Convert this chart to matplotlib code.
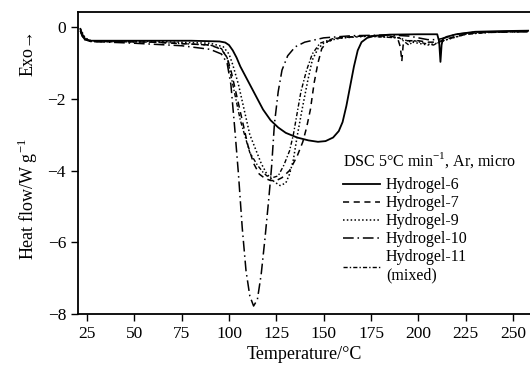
import matplotlib.pyplot as plt
import numpy as np

plt.rcParams["font.family"] = ["Liberation Serif", "DejaVu Serif"]
plt.rcParams["mathtext.fontset"] = "custom"
plt.rcParams["mathtext.rm"] = "Liberation Serif"

# Hydrogel-6 (solid)
t6 = [21.5, 22.5, 24, 27, 40, 60, 80, 95, 98, 100, 102, 104, 106, 109, 112, 115, 118, 122, 126,
      130, 136, 142, 147, 151, 155, 158, 160, 162, 164, 166, 168, 170, 173, 177, 185, 200, 210,
      211, 211.7, 212.3, 213, 215, 220, 230, 245, 258]
v6 = [-0.05, -0.2, -0.33, -0.38, -0.38, -0.38, -0.38, -0.4, -0.43, -0.5, -0.65, -0.85, -1.1, -1.4,
      -1.7, -2.0, -2.3, -2.6, -2.8, -2.95, -3.08, -3.16, -3.2, -3.18, -3.08, -2.9, -2.65, -2.2,
      -1.65, -1.1, -0.65, -0.42, -0.3, -0.24, -0.21, -0.2, -0.2, -0.4, -0.97, -0.5, -0.32, -0.27,
      -0.2, -0.13, -0.11, -0.1]

# Hydrogel-7 (dashed)
t7 = [21.5, 22.5, 24, 27, 60, 90, 96, 99, 101, 104, 107, 110, 113, 116, 119, 122, 125, 128, 132,
      136, 139, 141, 143, 145, 147, 149, 152, 158, 170, 185, 189, 190.5, 191.3, 192, 194, 200, 205,
      210, 214, 220, 230, 258]
v7 = [-0.1, -0.25, -0.35, -0.4, -0.42, -0.5, -0.62, -0.85, -1.2, -1.9, -2.6, -3.3, -3.8, -4.1,
      -4.22, -4.28, -4.28, -4.2, -4.0, -3.6, -3.2, -2.8, -2.3, -1.55, -1.0, -0.6, -0.4, -0.3,
      -0.25, -0.25, -0.3, -0.55, -0.95, -0.5, -0.38, -0.38, -0.42, -0.42, -0.35, -0.25, -0.16,
      -0.12]

# Hydrogel-9 (dotted)
t9 = [21.5, 22.5, 24, 27, 60, 90, 97, 100, 102, 105, 108, 111, 114, 117, 120, 124, 127, 130, 132,
      134, 136, 138.6, 141.7, 144, 147, 150, 155, 160, 175, 190, 195, 200, 205, 210, 215, 225, 235,
      258]
v9 = [-0.05, -0.15, -0.3, -0.38, -0.4, -0.45, -0.55, -0.75, -1.05, -1.6, -2.3, -3.0, -3.4, -3.8,
      -4.1, -4.32, -4.42, -4.35, -4.1, -3.7, -3.05, -2.3, -1.47, -0.92, -0.6, -0.45, -0.35, -0.3,
      -0.25, -0.3, -0.4, -0.45, -0.5, -0.45, -0.35, -0.2, -0.14, -0.12]

# Hydrogel-10 (long dash-dot)
t10 = [21.5, 22.5, 24, 27, 50, 75, 90, 96, 99, 101, 103, 105, 107, 109, 111, 113, 115, 117, 119,
       121, 122.5, 124, 126, 128, 131, 135, 140, 150, 165, 185, 195, 200, 205, 210, 214, 220, 230,
       258]
v10 = [-0.1, -0.25, -0.36, -0.4, -0.45, -0.52, -0.62, -0.75, -1.0, -1.6, -2.8, -4.1, -5.6, -6.8,
       -7.5, -7.78, -7.6, -6.9, -5.9, -4.8, -3.9, -2.7, -1.8, -1.2, -0.8, -0.55, -0.42, -0.3,
       -0.24, -0.22, -0.25, -0.3, -0.35, -0.35, -0.3, -0.2, -0.14, -0.13]

# Hydrogel-11 (mixed)
t11 = [21.5, 22.5, 24, 27, 60, 90, 96, 99, 102, 106, 111, 115, 118, 120, 123, 126, 129, 132, 134,
       136, 138, 141, 144, 148, 155, 170, 190, 195, 198, 203, 208, 212, 218, 225, 240, 258]
v11 = [-0.1, -0.25, -0.35, -0.4, -0.42, -0.5, -0.6, -0.85, -1.6, -2.6, -3.5, -3.85, -4.05, -4.15,
       -4.2, -4.15, -3.85, -3.45, -3.0, -2.4, -1.8, -1.2, -0.75, -0.45, -0.32, -0.25, -0.3, -0.5,
       -0.38, -0.45, -0.5, -0.4, -0.3, -0.2, -0.14, -0.12]

labels = ["Hydrogel-6", "Hydrogel-7", "Hydrogel-9", "Hydrogel-10", "Hydrogel-11\n(mixed)"]
series = [(t6, v6), (t7, v7), (t9, v9), (t10, v10), (t11, v11)]
dashes = [None, (4, 3), (1, 1.5), (7, 2.5, 1, 2.5), (3, 1.5, 1, 1.5)]
widths = [1.3, 1.1, 1.1, 1.1, 1.0]

fig = plt.figure(figsize=(5.3, 3.65), dpi=100)
ax = fig.add_axes([0.147, 0.140, 0.853, 0.827])

for (t, v), lab, d, w in zip(series, labels, dashes, widths):
    line, = ax.plot(t, v, color="black", lw=w, label=lab)
    if d is not None:
        line.set_dashes(d)

ax.set_xlim(20.2, 259)
ax.set_ylim(-8, 0.42)
ax.set_xticks([25, 50, 75, 100, 125, 150, 175, 200, 225, 250])
ax.set_yticks([0, -2, -4, -6, -8])
ax.tick_params(direction="out", length=5, width=1, labelsize=12.5)
ax.spines["right"].set_visible(False)
for s in ["left", "bottom", "top"]:
    ax.spines[s].set_linewidth(1.3)

ax.set_xlabel("Temperature/°C", fontsize=13, labelpad=3)
fig.text(0.053, 0.455, "Heat flow/W g$^{-1}$", rotation=90, fontsize=13, ha="center", va="center")
fig.text(0.053, 0.857, "Exo→", rotation=90, fontsize=13, ha="center", va="center")

ax.text(0.586, 0.49, "DSC 5°C min$^{-1}$, Ar, micro", transform=ax.transAxes, fontsize=11.5)
ax.legend(loc="upper left", bbox_to_anchor=(0.586, 0.452), frameon=False, fontsize=11.5,
          handlelength=2.3, handletextpad=0.4, labelspacing=0.12, borderpad=0,
          borderaxespad=0)

fig.savefig("out.png", dpi=100)
